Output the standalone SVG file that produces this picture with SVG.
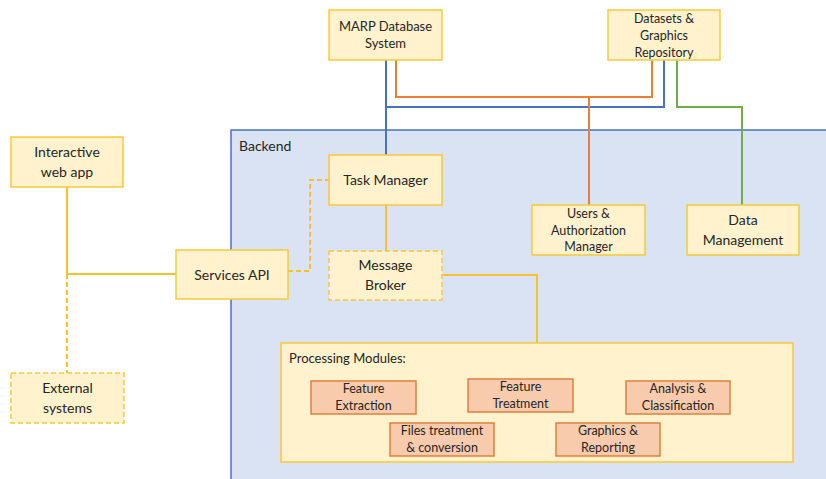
<svg xmlns="http://www.w3.org/2000/svg" width="826" height="479" viewBox="0 0 826 479">
<defs>
<style>
text{font-family:Lato,"Open Sans","Liberation Sans",sans-serif;fill:#262626;text-anchor:middle}
.box{fill:#fff2cc;stroke:#f9c93b;stroke-width:1.5}
.dash{stroke-dasharray:5,3}
.mod{fill:#f8cbad;stroke:#e0803f;stroke-width:1.5}
.y{fill:none;stroke:#f9c22b;stroke-width:2}
.b{fill:none;stroke:#4472c4;stroke-width:2}
.o{fill:none;stroke:#ed7d31;stroke-width:2}
.g{fill:none;stroke:#70ad47;stroke-width:2}
.t14{font-size:14px}
.t13{font-size:13px}
.t12{font-size:12.5px}
</style>
</defs>
<rect width="826" height="479" fill="#ffffff"/>
<g id="backend">
<rect x="231" y="130" width="600" height="360" fill="#dae3f3" stroke="#4472c4" stroke-width="1.5"/>
<text x="239" y="151" class="t14" style="text-anchor:start">Backend</text>
</g>
<g id="connectors">
<path class="b" d="M386 60V155M386 107H664V60"/>
<path class="o" d="M396 60V97H652V60M589 97V205"/>
<path class="g" d="M677 60V107H742V205"/>
<path class="y" d="M67 187V274H176"/>
<path class="y dash" d="M67 274V373"/>
<path class="y dash" d="M288 271H310V180H329"/>
<path class="y" d="M386 205V251"/>
<path class="y" d="M442 275H537V343"/>
</g>
<g id="marp">
<rect class="box" x="329" y="10" width="113" height="50"/>
<text x="385.5" y="31" class="t13">MARP Database</text>
<text x="385.5" y="48" class="t13">System</text>
</g>
<g id="datasets">
<rect class="box" x="608" y="10" width="112" height="50"/>
<text x="664" y="23" class="t12">Datasets &amp;</text>
<text x="664" y="40" class="t12">Graphics</text>
<text x="664" y="57" class="t12">Repository</text>
</g>
<g id="webapp">
<rect class="box" x="11" y="137" width="112" height="50"/>
<text x="67" y="157" class="t14">Interactive</text>
<text x="67" y="177" class="t14">web app</text>
</g>
<g id="external">
<rect class="box dash" x="11" y="373" width="113" height="50"/>
<text x="67.5" y="393" class="t14">External</text>
<text x="67.5" y="413" class="t14">systems</text>
</g>
<g id="services">
<rect class="box" x="176" y="250" width="112" height="49"/>
<text x="232" y="280" class="t14">Services API</text>
</g>
<g id="taskmanager">
<rect class="box" x="329" y="155" width="113" height="50"/>
<text x="385.5" y="185" class="t14">Task Manager</text>
</g>
<g id="broker">
<rect class="box dash" x="329" y="251" width="113" height="49"/>
<text x="385.5" y="270" class="t14">Message</text>
<text x="385.5" y="290" class="t14">Broker</text>
</g>
<g id="users">
<rect class="box" x="532" y="205" width="113" height="50"/>
<text x="588.5" y="218" class="t12">Users &amp;</text>
<text x="588.5" y="235" class="t12">Authorization</text>
<text x="588.5" y="251" class="t12">Manager</text>
</g>
<g id="datamgmt">
<rect class="box" x="687" y="205" width="112" height="50"/>
<text x="743" y="225" class="t14">Data</text>
<text x="743" y="245" class="t14">Management</text>
</g>
<g id="processing">
<rect class="box" x="281" y="343" width="512" height="119" />
<text x="289" y="363" class="t13" style="text-anchor:start">Processing Modules:</text>
</g>
<g id="featext">
<rect class="mod" x="311" y="381" width="105" height="33"/>
<text x="363.5" y="393" class="t12">Feature</text>
<text x="363.5" y="410" class="t12">Extraction</text>
</g>
<g id="feattreat">
<rect class="mod" x="468" y="379" width="105" height="33"/>
<text x="520.5" y="391" class="t12">Feature</text>
<text x="520.5" y="408" class="t12">Treatment</text>
</g>
<g id="analysis">
<rect class="mod" x="626" y="381" width="104" height="33"/>
<text x="678" y="393" class="t12">Analysis &amp;</text>
<text x="678" y="410" class="t12">Classification</text>
</g>
<g id="files">
<rect class="mod" x="390" y="423" width="104" height="33"/>
<text x="442" y="435" class="t12">Files treatment</text>
<text x="442" y="452" class="t12">&amp; conversion</text>
</g>
<g id="graphics">
<rect class="mod" x="556" y="423" width="104" height="33"/>
<text x="608" y="435" class="t12">Graphics &amp;</text>
<text x="608" y="452" class="t12">Reporting</text>
</g>
</svg>
